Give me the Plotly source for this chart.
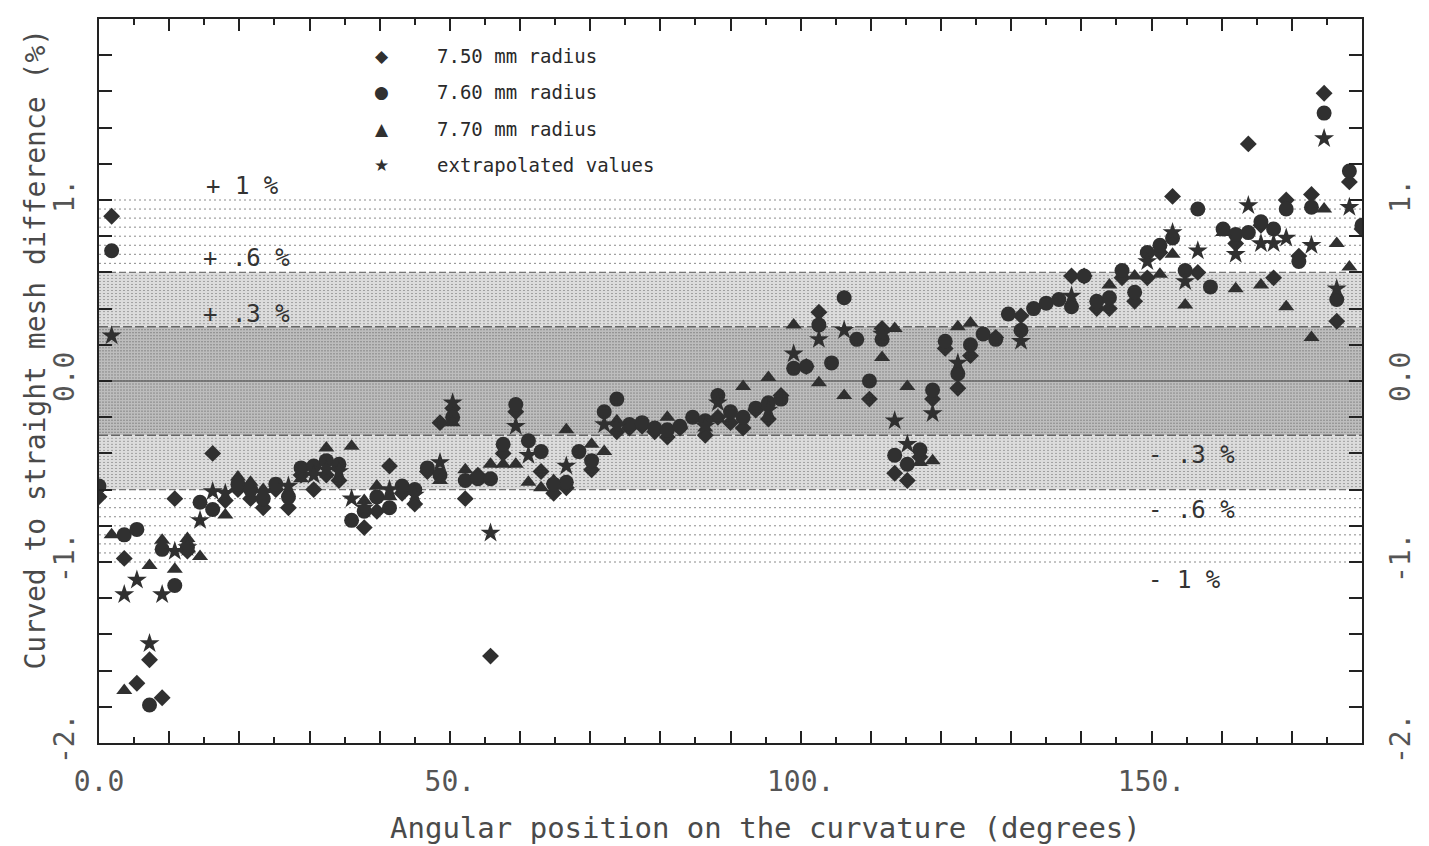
import numpy as np
import plotly.graph_objects as go

# ---------------- data ----------------
ANGLES = [0.0, 1.8, 3.6, 5.4, 7.2, 9.0, 10.8, 12.6, 14.4, 16.2,
          18.0, 19.8, 21.6, 23.4, 25.2, 27.0, 28.8, 30.6, 32.4, 34.2,
          36.0, 37.8, 39.6, 41.4, 43.2, 45.0, 46.8, 48.6, 50.4, 52.2,
          54.0, 55.8, 57.6, 59.4, 61.2, 63.0, 64.8, 66.6, 68.4, 70.2,
          72.0, 73.8, 75.6, 77.4, 79.2, 81.0, 82.8, 84.6, 86.4, 88.2,
          90.0, 91.8, 93.6, 95.4, 97.2, 99.0, 100.8, 102.6, 104.4, 106.2,
          108.0, 109.8, 111.6, 113.4, 115.2, 117.0, 118.8, 120.6, 122.4, 124.2,
          126.0, 127.8, 129.6, 131.4, 133.2, 135.0, 136.8, 138.6, 140.4, 142.2,
          144.0, 145.8, 147.6, 149.4, 151.2, 153.0, 154.8, 156.6, 158.4, 160.2,
          162.0, 163.8, 165.6, 167.4, 169.2, 171.0, 172.8, 174.6, 176.4, 178.2,
          180.0]

R750 = [-0.64, 0.91, -0.98, -1.67, -1.54, -1.75, -0.65, -0.94, None, -0.40,
        -0.66, -0.60, -0.65, -0.70, -0.60, -0.70, -0.52, -0.60, -0.52, -0.55,
        None, -0.81, -0.72, -0.47, -0.62, -0.68, -0.50, -0.23, -0.15, -0.65,
        -0.52, -1.52, -0.40, -0.17, None, -0.50, -0.62, -0.59, None, -0.49,
        None, -0.28, -0.26, -0.25, -0.28, -0.31, -0.26, None, -0.30, -0.20,
        -0.23, -0.26, -0.16, -0.21, -0.08, None, 0.08, 0.38, None, None,
        None, -0.10, 0.29, -0.51, -0.55, -0.42, -0.10, 0.18, -0.04, 0.14,
        None, 0.24, None, 0.36, None, None, None, 0.58, 0.58, 0.40,
        0.40, 0.57, 0.44, 0.57, 0.71, 1.02, None, 0.60, None, None,
        0.76, 1.31, 0.86, 0.57, 1.00, 0.69, 1.03, 1.59, 0.33, 1.10,
        0.84]

R760 = [-0.58, 0.72, -0.85, -0.82, -1.79, -0.93, -1.13, -0.92, -0.67, -0.71,
        None, -0.57, -0.60, -0.65, -0.57, -0.64, -0.48, -0.47, -0.44, -0.46,
        -0.77, -0.72, -0.64, -0.70, -0.58, -0.60, -0.48, -0.52, -0.20, -0.55,
        -0.54, -0.54, -0.35, -0.13, -0.33, -0.39, -0.57, -0.56, -0.39, -0.44,
        -0.17, -0.10, -0.24, -0.23, -0.26, -0.27, -0.25, -0.20, -0.22, -0.08,
        -0.17, -0.20, -0.15, -0.12, -0.10, 0.07, 0.08, 0.31, 0.10, 0.46,
        0.23, 0.00, 0.23, -0.41, -0.46, -0.38, -0.05, 0.22, 0.04, 0.20,
        0.26, 0.23, 0.37, 0.28, 0.40, 0.43, 0.45, 0.41, 0.58, 0.44,
        0.46, 0.61, 0.49, 0.71, 0.75, 0.79, 0.61, 0.95, 0.52, 0.84,
        0.81, 0.82, 0.88, 0.84, 0.95, 0.66, 0.96, 1.48, 0.45, 1.16,
        0.86]

R770 = [None, -0.85, -1.71, None, -1.02, -0.88, -1.04, -0.87, -0.97, None,
        -0.74, -0.53, -0.56, -0.60, None, None, -0.54, None, -0.37, None,
        -0.36, -0.66, -0.58, -0.64, None, None, None, -0.55, -0.23, -0.49,
        None, -0.46, -0.46, -0.46, -0.56, -0.59, -0.55, -0.27, None, -0.35,
        -0.39, -0.22, None, None, None, -0.20, None, None, -0.26, -0.21,
        None, -0.03, None, 0.02, None, 0.31, None, -0.01, None, -0.08,
        None, None, 0.13, 0.29, -0.03, -0.45, -0.44, None, 0.30, 0.32,
        None, None, None, None, None, None, None, None, None, None,
        0.53, None, 0.58, None, 0.59, 0.70, 0.42, None, None, 0.82,
        0.51, None, 0.53, None, 0.41, None, 0.24, 0.95, 0.76, 0.63,
        None]

EXTRAP = [None, 0.25, -1.18, -1.10, -1.45, -1.18, -0.94, -0.92, -0.77, -0.61,
          -0.62, None, None, None, None, -0.58, None, -0.52, -0.49, -0.50,
          -0.65, -0.70, None, -0.60, None, -0.63, None, -0.45, -0.12, None,
          None, -0.84, None, -0.25, -0.41, None, None, -0.47, None, None,
          -0.24, -0.25, None, None, None, None, None, None, -0.25, -0.12,
          None, None, None, -0.16, None, 0.15, None, 0.23, None, 0.28,
          None, None, 0.26, -0.22, -0.35, None, -0.18, None, 0.10, None,
          None, None, None, 0.22, None, None, None, 0.47, None, None,
          None, None, None, 0.66, None, 0.82, 0.55, 0.72, None, None,
          0.70, 0.97, 0.76, 0.76, 0.79, None, 0.75, 1.34, 0.51, 0.96,
          None]

SERIES_NAMES = ["7.50 mm radius", "7.60 mm radius", "7.70 mm radius", "extrapolated values"]
X_TICKS = [0, 50, 100, 150]
X_TICK_TEXT = ["0.0", "50.", "100.", "150."]
Y_TICKS = [-2, -1, 0, 1, 2]
Y_TICK_TEXT = ["-2.", "-1.", "0.0", "1.", "2."]
BAND_LABELS = [("+ 1 %", 20.4, 1.075), ("+ .6 %", 21.0, 0.68), ("+ .3 %", 21.0, 0.37),
               ("- .3 %", 155.7, -0.41), ("- .6 %", 155.7, -0.715), ("- 1 %", 154.7, -1.10)]

# ---------------- styling ----------------
FONT = "DejaVu Sans Mono"
MARK = "#303030"
INK = "#4a4a4a"

fig = go.Figure()

specs = [("diamond", 13), ("circle", 15), ("triangle-up", 14), ("star", 15)]
for name, vals, (sym, sz) in zip(SERIES_NAMES, [R750, R760, R770, EXTRAP], specs):
    fig.add_trace(go.Scatter(x=ANGLES, y=vals, mode="markers", name=name,
                             marker=dict(symbol=sym, size=sz, color=MARK,
                                         line=dict(width=0)),
                             showlegend=False))

# empty trace to materialise the right-hand axis
fig.add_trace(go.Scatter(x=[], y=[], yaxis="y2", showlegend=False))

shapes = []
def hline(y, color, dash, width=1):
    shapes.append(dict(type="line", xref="x", yref="y", x0=0, x1=180, y0=y, y1=y,
                       line=dict(color=color, width=width, dash=dash), layer="below"))

# bands (decoration)
for sgn in (1, -1):
    shapes.append(dict(type="rect", xref="x", yref="y", x0=0, x1=180,
                       y0=0, y1=0.3 * sgn, fillcolor="#bdbdbd", line=dict(width=0), layer="below"))
    shapes.append(dict(type="rect", xref="x", yref="y", x0=0, x1=180,
                       y0=0.3 * sgn, y1=0.6 * sgn, fillcolor="#dcdcdc", line=dict(width=0), layer="below"))
    for v in np.arange(0.0, 0.3, 1 / 60):
        hline(sgn * v, "#8a8a8a", "2px,1px")
    for v in np.arange(0.3 + 1 / 60, 0.6, 1 / 60):
        hline(sgn * v, "#a0a0a0", "2px,2px")
    for v in np.arange(0.6, 1.001, 0.05):
        hline(sgn * v, "#8a8a8a", "2px,3px")
    hline(sgn * 0.3, "#666666", "9px,3px", 1.5)
    hline(sgn * 0.6, "#777777", "7px,3px", 1.2)
hline(0, "#666666", "solid", 1.5)

annotations = []
for txt, xv, yv in BAND_LABELS:
    annotations.append(dict(x=xv, y=yv, xref="x", yref="y", text=txt, showarrow=False,
                            font=dict(family=FONT, size=24, color="#333333")))

# legend (drawn as text)
leg_sym = ["◆", "●", "▲", "★"]
leg_y = [1.798, 1.599, 1.395, 1.191]
for s, n, yv in zip(leg_sym, SERIES_NAMES, leg_y):
    annotations.append(dict(x=40.3, y=yv, xref="x", yref="y", text=s, showarrow=False,
                            font=dict(family="DejaVu Sans", size=17, color=MARK)))
    annotations.append(dict(x=47.9, y=yv, xref="x", yref="y", text=n, showarrow=False,
                            xanchor="left", font=dict(family=FONT, size=19, color="#2a2a2a")))

# axis titles
annotations.append(dict(x=0.5276, y=-0.1174, xref="paper", yref="paper",
                        xanchor="center", yanchor="middle",
                        text="Angular position on the curvature (degrees)", showarrow=False,
                        font=dict(family=FONT, size=29, color=INK)))
annotations.append(dict(x=-0.0504, y=0.544, xref="paper", yref="paper", textangle=-90,
                        xanchor="center", yanchor="middle",
                        text="Curved to straight mesh difference (%)", showarrow=False,
                        font=dict(family=FONT, size=28, color=INK)))

x_major = list(range(0, 181, 10))
x_text = [X_TICK_TEXT[X_TICKS.index(v)] if v in X_TICKS else "" for v in x_major]
y_all = [round(v, 1) for v in np.arange(-2, 2.001, 0.2)]
y_text = [Y_TICK_TEXT[Y_TICKS.index(int(v))] if abs(v - round(v)) < 1e-9 else "" for v in y_all]

axis_font = dict(family=FONT, size=28, color="#555555")

fig.update_layout(
    width=1429, height=846, autosize=False,
    margin=dict(l=99, r=60, t=19, b=103),
    paper_bgcolor="white", plot_bgcolor="white",
    shapes=shapes, annotations=annotations,
    xaxis=dict(range=[0, 180], showgrid=False, zeroline=False,
               showline=True, linecolor="#222222", linewidth=2, mirror="ticks",
               ticks="inside", tickvals=x_major, ticktext=x_text, ticklen=12,
               tickwidth=2, tickcolor="#222222",
               minor=dict(tickvals=list(range(5, 180, 10)), ticks="inside", ticklen=6,
                          tickwidth=2, tickcolor="#222222"),
               tickfont=axis_font, ticklabelstandoff=12),
    yaxis=dict(range=[-2, 2], showgrid=False, zeroline=False,
               showline=True, linecolor="#222222", linewidth=2,
               ticks="inside", tickvals=y_all, ticktext=y_text, ticklen=13,
               tickwidth=2, tickcolor="#222222", tickangle=-90,
               tickfont=axis_font, ticklabelstandoff=12),
    yaxis2=dict(range=[-2, 2], overlaying="y", side="right", anchor="x",
                showgrid=False, zeroline=False,
                showline=True, linecolor="#222222", linewidth=2,
                ticks="inside", tickvals=y_all, ticktext=y_text, ticklen=13,
                tickwidth=2, tickcolor="#222222", tickangle=-90,
                tickfont=axis_font, ticklabelstandoff=12),
)

fig.write_html("out.html")
